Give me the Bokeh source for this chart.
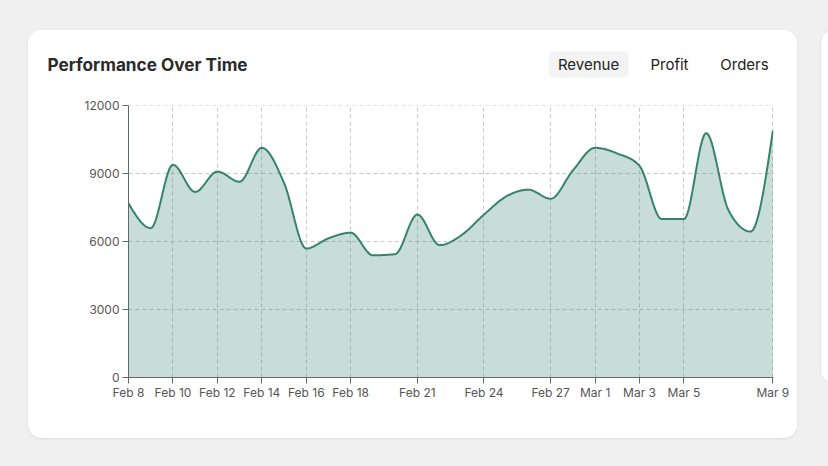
import numpy as np
import pandas as pd
from bokeh.plotting import figure
from bokeh.layouts import row, column
from bokeh.models import FixedTicker, Range1d, BoxAnnotation, Div
from bokeh.core.properties import value
from bokeh.embed import file_html
from bokeh.resources import INLINE

# ---------------- data ----------------
dates = [
    "2025-02-08", "2025-02-09", "2025-02-10", "2025-02-11", "2025-02-12",
    "2025-02-13", "2025-02-14", "2025-02-15", "2025-02-16", "2025-02-17",
    "2025-02-18", "2025-02-19", "2025-02-20", "2025-02-21", "2025-02-22",
    "2025-02-23", "2025-02-24", "2025-02-25", "2025-02-26", "2025-02-27",
    "2025-02-28", "2025-03-01", "2025-03-02", "2025-03-03", "2025-03-04",
    "2025-03-05", "2025-03-06", "2025-03-07", "2025-03-08", "2025-03-09",
]
revenue = [7700, 6600, 9400, 8200, 9100, 8650, 10150, 8600, 5700, 6150,
           6400, 5400, 5450, 7200, 5850, 6300, 7200, 8000, 8300, 7900,
           9150, 10150, 9900, 9350, 7000, 7000, 10800, 7400, 6450, 10900]
tick_dates = ["2025-02-08", "2025-02-10", "2025-02-12", "2025-02-14",
              "2025-02-16", "2025-02-18", "2025-02-21", "2025-02-24",
              "2025-02-27", "2025-03-01", "2025-03-03", "2025-03-05",
              "2025-03-09"]
y_ticks = [0, 3000, 6000, 9000, 12000]
tabs = ["Revenue", "Profit", "Orders"]
title = "Performance Over Time"

# ---------------- helpers ----------------
d = pd.to_datetime(dates)
t0 = d[0]
xs = np.array([(v - t0).days for v in d], dtype=float)
td = pd.to_datetime(tick_dates)
tick_x = [int((v - t0).days) for v in td]
tick_labels = {tx: f"{v:%b} {v.day}" for tx, v in zip(tick_x, td)}


def monotone_curve(x, y, n=24):
    """Render-time smoothing like d3.curveMonotoneX (cubic Bezier per segment)."""
    x = np.asarray(x, float)
    y = np.asarray(y, float)
    m = len(x)
    h = np.diff(x)
    s = np.diff(y) / h
    t = np.zeros(m)
    sgn = lambda v: -1.0 if v < 0 else 1.0
    for i in range(1, m - 1):
        h0, h1, s0, s1 = h[i - 1], h[i], s[i - 1], s[i]
        p = (s0 * h1 + s1 * h0) / (h0 + h1)
        t[i] = (sgn(s0) + sgn(s1)) * min(abs(s0), abs(s1), 0.5 * abs(p))
    t[0] = (3 * s[0] - t[1]) / 2
    t[-1] = (3 * s[-1] - t[-2]) / 2
    ox, oy = [], []
    u = np.linspace(0, 1, n, endpoint=False)
    for i in range(m - 1):
        dx = h[i] / 3
        P0 = (x[i], y[i])
        P1 = (x[i] + dx, y[i] + dx * t[i])
        P2 = (x[i + 1] - dx, y[i + 1] - dx * t[i + 1])
        P3 = (x[i + 1], y[i + 1])
        b0 = (1 - u) ** 3
        b1 = 3 * (1 - u) ** 2 * u
        b2 = 3 * (1 - u) * u ** 2
        b3 = u ** 3
        ox.extend(b0 * P0[0] + b1 * P1[0] + b2 * P2[0] + b3 * P3[0])
        oy.extend(b0 * P0[1] + b1 * P1[1] + b2 * P2[1] + b3 * P3[1])
    ox.append(x[-1])
    oy.append(y[-1])
    return np.array(ox), np.array(oy)


cx, cy = monotone_curve(xs, revenue)

FONT = "Inter"
LINE = "#35836b"
CARD_W, CARD_H = 769, 408
HEAD_H = 60

# ---------------- header (title + tabs) ----------------
head = figure(width=CARD_W, height=HEAD_H, output_backend="svg",
              toolbar_location=None, x_axis_type=None, y_axis_type=None,
              x_range=Range1d(0, CARD_W), y_range=Range1d(HEAD_H, 0),
              min_border=0, outline_line_color=None,
              background_fill_color="white", border_fill_color="white")
head.frame_align = False
head.grid.visible = False
head.add_layout(BoxAnnotation(left=520, right=600, top=21, bottom=47,
                              fill_color="#f3f3f3", fill_alpha=1,
                              line_color=None, border_radius=5, level="image"))
head.text(x=[19], y=[34], text=[title], text_font=value(FONT),
          text_font_size=value("17.2px"), text_font_style=value("bold"),
          text_color="#2b2b2b", text_baseline="middle", text_align="left")
head.text(x=[560, 641, 716], y=[34, 34, 34], text=tabs, text_font=value(FONT),
          text_font_size=value("15px"), text_color="#222222",
          text_baseline="middle", text_align="center")

# ---------------- chart ----------------
p = figure(
    width=CARD_W, height=CARD_H - HEAD_H,
    output_backend="svg", toolbar_location=None,
    x_range=Range1d(xs[0], xs[-1] + 0.03),
    y_range=Range1d(y_ticks[0], y_ticks[-1] + 20),
    min_border_left=100, min_border_right=24,
    min_border_top=15, min_border_bottom=61,
    border_fill_color="white", background_fill_color="white",
    outline_line_color=None,
)
p.frame_align = False
p.varea(x=cx, y1=0, y2=cy, fill_color=LINE, fill_alpha=0.27)
p.line(cx, cy, line_color=LINE, line_width=2)

p.xaxis.ticker = FixedTicker(ticks=tick_x)
p.xaxis.major_label_overrides = tick_labels
p.yaxis.ticker = FixedTicker(ticks=y_ticks)
for ax in (p.xaxis, p.yaxis):
    ax.axis_line_color = "#5f6b66"
    ax.major_tick_line_color = "#5f6b66"
    ax.major_tick_out = 6
    ax.major_tick_in = 0
    ax.minor_tick_line_color = None
    ax.major_label_text_font = FONT
    ax.major_label_text_font_size = "12px"
    ax.major_label_text_color = "#555555"
    ax.major_label_standoff = 3
p.xaxis.major_label_standoff = 1
p.yaxis.formatter.use_scientific = False

p.xgrid.ticker = FixedTicker(ticks=tick_x)
p.ygrid.ticker = FixedTicker(ticks=y_ticks)
for g in (p.xgrid, p.ygrid):
    g.grid_line_color = "#c8c8c8"
    g.grid_line_dash = "4 3"
    g.grid_line_width = 1

# ---------------- page layout ----------------
card = column(head, p, spacing=0, margin=(30, 0, 0, 28),
              styles={"background-color": "white", "border-radius": "14px",
                      "overflow": "hidden",
                      "box-shadow": "0 1px 3px rgba(0,0,0,0.10)"})
side = Div(text="", width=40, height=353, margin=(30, 0, 0, 23),
           styles={"background-color": "white", "border-radius": "12px",
                   "border": "1px solid #e2e2e2", "box-sizing": "border-box"})
page = row(card, side, spacing=0, width=828, height=466, sizing_mode="fixed",
           styles={"background-color": "#f0f0f0", "overflow": "hidden"})

open("out.html", "w").write(file_html(page, INLINE))
